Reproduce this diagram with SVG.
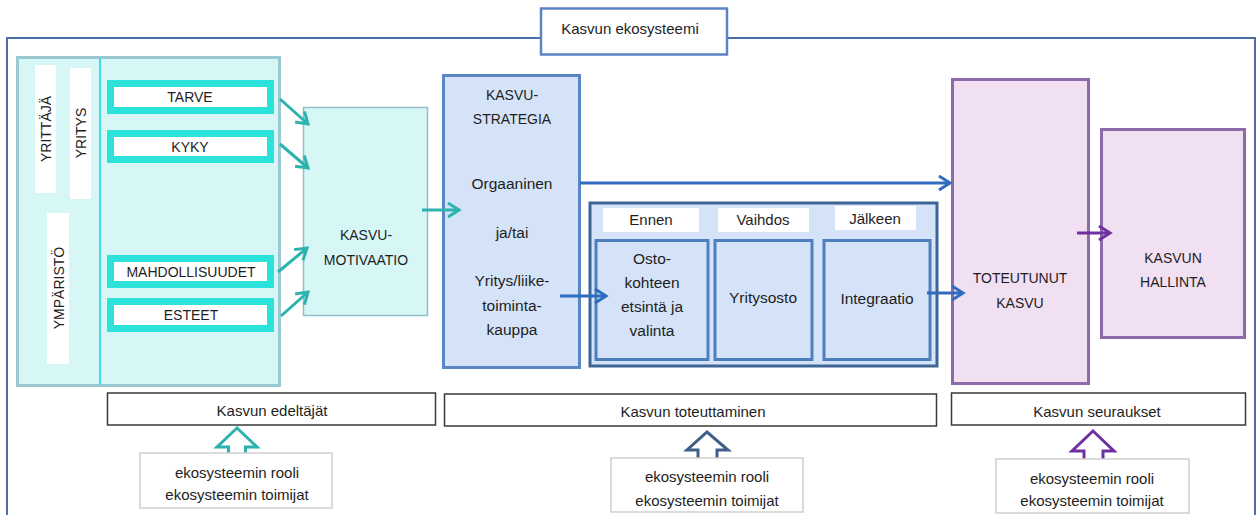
<svg xmlns="http://www.w3.org/2000/svg" width="1257" height="515" viewBox="0 0 1257 515">
<defs>
<style>
text{font-family:"Liberation Sans",Arial,sans-serif;fill:#1e1e1e;text-anchor:middle;dominant-baseline:central}
.caps{font-size:14px}
.lc{font-size:15px}
.big{font-size:15.5px}
.cyanbox{fill:#fff;stroke:#2BE3DB;stroke-width:7}
.strip{fill:#fff}
.teal{stroke:#2CB3AE;stroke-width:3;fill:none}
.blue{stroke:#2F6BBF;stroke-width:3;fill:none}
.purple{stroke:#7030A0;stroke-width:3;fill:none}
.sub{fill:#D5E3F8;stroke:#4F7EBF;stroke-width:3}
.label{fill:#fff;stroke:#3a3a3a;stroke-width:1.5}
.eco{fill:#fff;stroke:#D0D0D0;stroke-width:1.5}
.hollow{fill:#fff;stroke-width:3;stroke-linejoin:miter}
</style>
<marker id="mTeal" markerUnits="userSpaceOnUse" markerWidth="18" markerHeight="18" refX="13" refY="8" orient="auto" viewBox="0 0 18 16">
<path d="M2,1 L13,8 L2,15" fill="none" stroke="#2CB3AE" stroke-width="3"/>
</marker>
<marker id="mBlue" markerUnits="userSpaceOnUse" markerWidth="18" markerHeight="18" refX="13" refY="8" orient="auto" viewBox="0 0 18 16">
<path d="M2,1 L13,8 L2,15" fill="none" stroke="#2F6BBF" stroke-width="3"/>
</marker>
<marker id="mPurple" markerUnits="userSpaceOnUse" markerWidth="18" markerHeight="18" refX="13" refY="8" orient="auto" viewBox="0 0 18 16">
<path d="M2,1 L13,8 L2,15" fill="none" stroke="#7030A0" stroke-width="3"/>
</marker>
</defs>
<rect width="1257" height="515" fill="#fff"/>

<g id="frame">
<rect x="7" y="38" width="1248" height="500" fill="none" stroke="#4A6FA5" stroke-width="2"/>
</g>
<g id="title">
<rect x="541" y="8.5" width="186" height="46" fill="#fff" stroke="#5B84C4" stroke-width="2.5"/>
<text class="lc" x="630" y="28">Kasvun ekosysteemi</text>
</g>

<g id="left-panel">
<rect x="17.5" y="57.5" width="262" height="328" fill="#D7F7F7" stroke="#9AC9D3" stroke-width="3"/>
<line x1="100" y1="58" x2="100" y2="385" stroke="#45DCDC" stroke-width="2"/>
<rect class="strip" x="35" y="65" width="21" height="128"/>
<rect class="strip" x="70" y="68" width="21" height="131"/>
<rect class="strip" x="47" y="213" width="22" height="151"/>
<text class="caps" transform="translate(45.5,129) rotate(-90)">YRITTÄJÄ</text>
<text class="caps" transform="translate(80.5,133) rotate(-90)">YRITYS</text>
<text class="caps" transform="translate(58.5,288) rotate(-90)">YMPÄRISTÖ</text>
</g>
<g id="tarve">
<rect class="cyanbox" x="110.5" y="83.5" width="160" height="27"/>
<text class="caps" x="190" y="97">TARVE</text>
</g>
<g id="kyky">
<rect class="cyanbox" x="110.5" y="133.5" width="160" height="26"/>
<text class="caps" x="190" y="147">KYKY</text>
</g>
<g id="mahdollisuudet">
<rect class="cyanbox" x="110.5" y="258.5" width="160" height="26"/>
<text class="caps" x="191" y="271.5">MAHDOLLISUUDET</text>
</g>
<g id="esteet">
<rect class="cyanbox" x="110.5" y="301.5" width="160" height="27"/>
<text class="caps" x="191" y="315">ESTEET</text>
</g>

<g id="motivaatio">
<rect x="303.5" y="107.5" width="124" height="208" fill="#D7F7F7" stroke="#93BFC8" stroke-width="1.5"/>
<text class="caps" x="366" y="235">KASVU-</text>
<text class="caps" x="366" y="260">MOTIVAATIO</text>
</g>

<g id="strategia">
<rect x="443.5" y="75.5" width="136" height="292" fill="#D5E3F8" stroke="#5A86C6" stroke-width="3"/>
<text class="caps" x="512" y="95">KASVU-</text>
<text class="caps" x="512" y="119">STRATEGIA</text>
<text class="big" x="512" y="183">Orgaaninen</text>
<text class="big" x="512" y="232">ja/tai</text>
<text class="big" x="512" y="280">Yritys/liike-</text>
<text class="big" x="512" y="305">toiminta-</text>
<text class="big" x="512" y="329">kauppa</text>
</g>

<g id="yritysosto-group">
<rect x="590" y="203" width="347" height="163" fill="#D5E3F8" stroke="#3D6596" stroke-width="3"/>
<rect x="603" y="208" width="96" height="24" fill="#fff"/>
<rect x="718" y="208" width="91" height="24" fill="#fff"/>
<rect x="835" y="206" width="81" height="24" fill="#fff"/>
<text class="lc" x="651" y="219">Ennen</text>
<text class="lc" x="763" y="219">Vaihdos</text>
<text class="lc" x="875" y="218">Jälkeen</text>
</g>
<g id="ennen">
<rect class="sub" x="596" y="240.5" width="112" height="119"/>
<text class="big" x="652" y="258">Osto-</text>
<text class="big" x="652" y="282">kohteen</text>
<text class="big" x="652" y="306">etsintä ja</text>
<text class="big" x="652" y="330">valinta</text>
</g>
<g id="vaihdos">
<rect class="sub" x="715" y="240.5" width="97" height="119"/>
<text class="big" x="763" y="297">Yritysosto</text>
</g>
<g id="jalkeen">
<rect class="sub" x="824" y="240.5" width="106" height="119"/>
<text class="big" x="877" y="298">Integraatio</text>
</g>

<g id="toteutunut">
<rect x="952.5" y="79.5" width="136" height="304" fill="#F1DFF2" stroke="#8C6BAA" stroke-width="3"/>
<text class="caps" x="1020" y="278">TOTEUTUNUT</text>
<text class="caps" x="1020" y="303">KASVU</text>
</g>
<g id="hallinta">
<rect x="1101.5" y="129.5" width="143" height="208" fill="#F1DFF2" stroke="#8C6BAA" stroke-width="3"/>
<text class="caps" x="1173" y="258">KASVUN</text>
<text class="caps" x="1173" y="282">HALLINTA</text>
</g>

<g id="connectors">
<line class="teal" x1="280" y1="99" x2="308" y2="124" marker-end="url(#mTeal)"/>
<line class="teal" x1="280" y1="144" x2="308" y2="168" marker-end="url(#mTeal)"/>
<line class="teal" x1="278" y1="272" x2="307" y2="248" marker-end="url(#mTeal)"/>
<line class="teal" x1="281" y1="316" x2="308" y2="292" marker-end="url(#mTeal)"/>
<line class="teal" x1="422" y1="210" x2="459" y2="210" marker-end="url(#mTeal)"/>
<line class="blue" x1="580" y1="183" x2="950" y2="183" marker-end="url(#mBlue)"/>
<line class="blue" x1="560" y1="296" x2="606" y2="296" marker-end="url(#mBlue)"/>
<line class="blue" x1="927" y1="293" x2="963" y2="293" marker-end="url(#mBlue)"/>
<line class="purple" x1="1077" y1="233" x2="1110" y2="233" marker-end="url(#mPurple)"/>
</g>

<g id="edeltajat">
<rect class="label" x="107.5" y="393" width="328" height="32"/>
<text class="lc" x="272" y="410">Kasvun edeltäjät</text>
</g>
<g id="toteuttaminen">
<rect class="label" x="444.5" y="394" width="492" height="32"/>
<text class="lc" x="693" y="411">Kasvun toteuttaminen</text>
</g>
<g id="seuraukset">
<rect class="label" x="951.5" y="393" width="294" height="32"/>
<text class="lc" x="1097" y="411">Kasvun seuraukset</text>
</g>

<g id="up-arrows">
<polyline class="hollow" stroke="#2CB3AE" points="228.5,455 228.5,447 217,447 237,428 257,447 245.5,447 245.5,455"/>
<polyline class="hollow" stroke="#3F5F8A" points="698,460 698,450 687,450 707,432 728,450 717,450 717,460"/>
<polyline class="hollow" stroke="#7030A0" points="1084,461 1084,451 1072,451 1093,431 1114,451 1103,451 1103,461"/>
</g>

<g id="eco1">
<rect class="eco" x="140" y="453" width="192" height="55"/>
<text class="lc" x="237" y="472">ekosysteemin rooli</text>
<text class="lc" x="237" y="494">ekosysteemin toimijat</text>
</g>
<g id="eco2">
<rect class="eco" x="611" y="458" width="192" height="54"/>
<text class="lc" x="707" y="476">ekosysteemin rooli</text>
<text class="lc" x="707" y="500">ekosysteemin toimijat</text>
</g>
<g id="eco3">
<rect class="eco" x="996" y="459" width="193" height="54"/>
<text class="lc" x="1092" y="478">ekosysteemin rooli</text>
<text class="lc" x="1092" y="500">ekosysteemin toimijat</text>
</g>
</svg>
